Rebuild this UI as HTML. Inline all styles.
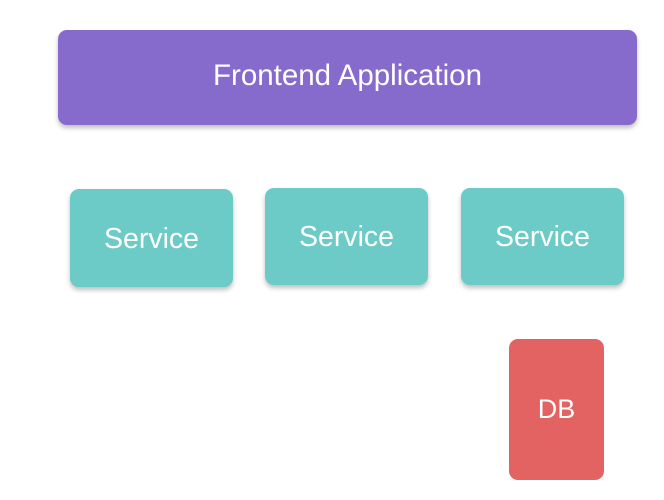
<!DOCTYPE html>
<html><head><style>
html,body{margin:0;padding:0;background:#fff;width:664px;height:500px;overflow:hidden;font-family:"Liberation Sans",sans-serif;}
.b{position:absolute;display:flex;align-items:center;justify-content:center;color:#fff;border-radius:9px;box-shadow:0 3px 5px rgba(0,0,0,0.25);}
.s{background:#6ccbc6;font-size:28.5px;width:163px;height:95px;padding-top:2px;}
</style></head><body>
<div class="b" style="left:58px;top:30px;width:579px;height:91px;padding-bottom:4px;background:#866bcd;font-size:29.5px;">Frontend Application</div>
<div class="b s" style="left:70px;top:189px;height:96px;">Service</div>
<div class="b s" style="left:265px;top:188px;">Service</div>
<div class="b s" style="left:461px;top:188px;">Service</div>
<div class="b" style="left:509px;top:339px;width:95px;height:141px;background:#e36262;font-size:27px;box-shadow:none;">DB</div>
</body></html>
